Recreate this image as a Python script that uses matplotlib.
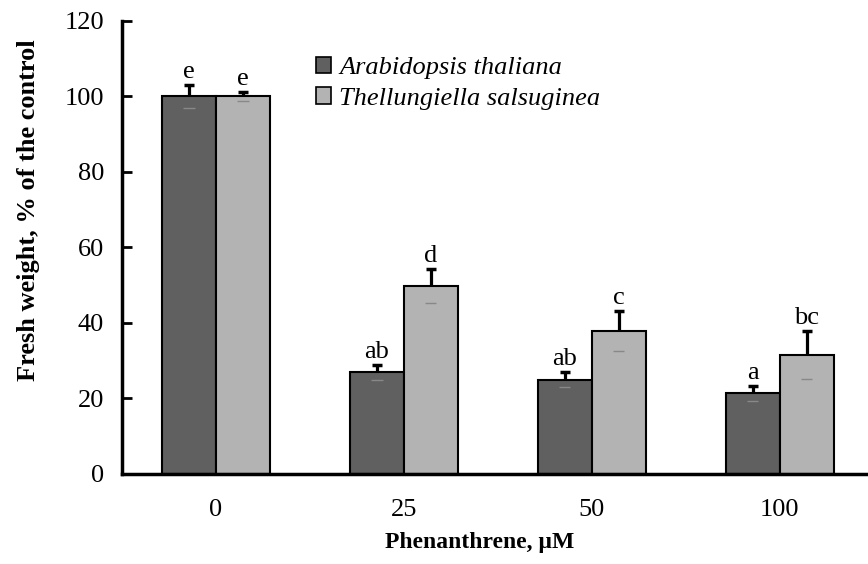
import numpy as np
import matplotlib.pyplot as plt
from matplotlib.patches import Patch

plt.rcParams['font.family'] = ['Liberation Serif', 'DejaVu Serif']

concentrations = ['0', '25', '50', '100']
arabidopsis = [100, 27, 25, 21.4]
arabidopsis_err = [3, 2, 2, 2]
thellungiella = [100, 49.7, 37.8, 31.5]
thellungiella_err = [1.2, 4.5, 5.3, 6.3]
arabidopsis_letters = ['e', 'ab', 'ab', 'a']
thellungiella_letters = ['e', 'd', 'c', 'bc']

dark = '#606060'
light = '#b3b3b3'

fig = plt.figure(figsize=(8.68, 5.64), dpi=100)
ax = fig.add_axes([0.1406, 0.1596, 0.8594, 0.8032])

x = np.arange(len(concentrations))
w = 0.287

for offs, vals, errs, col, letters in [(-w / 2, arabidopsis, arabidopsis_err, dark, arabidopsis_letters),
                                       (w / 2, thellungiella, thellungiella_err, light, thellungiella_letters)]:
    xs = x + offs
    vals = np.array(vals)
    errs = np.array(errs)
    ax.bar(xs, vals, width=w, color=col, edgecolor='black', linewidth=1.5, zorder=2)
    # lower half of the error bar shows as a faint line inside the bar
    ax.hlines(vals - errs, xs - 0.03, xs + 0.03, color='#888888', lw=1, zorder=3)
    eb = ax.errorbar(xs, vals, yerr=[np.zeros_like(errs), errs], fmt='none',
                     ecolor='black', elinewidth=2.3, capsize=3.4, capthick=2.5, zorder=3)
    eb[1][0].set_visible(False)
    for xi, v, e, lab in zip(xs, vals, errs, letters):
        ax.text(xi, v + e + 0.5, lab, ha='center', va='bottom', fontsize=19)

ax.set_xlim(-0.5, 3.47)
ax.set_ylim(0, 120)
ax.set_yticks(np.arange(0, 121, 20))
ax.set_xticks(x)
ax.set_xticklabels(concentrations)
ax.tick_params(axis='y', direction='in', length=7, width=2, labelsize=19, pad=13)
ax.tick_params(axis='x', length=0, labelsize=19, pad=18)
for s in ['top', 'right']:
    ax.spines[s].set_visible(False)
for s in ['left', 'bottom']:
    ax.spines[s].set_linewidth(2.5)

ax.set_ylabel('Fresh weight, % of the control', fontsize=19, fontweight='bold')
ax.yaxis.set_label_coords(-0.11, 0.583)
ax.set_xlabel('Phenanthrene, µM', fontsize=17, fontweight='bold')
ax.xaxis.set_label_coords(0.48, -0.127)

handles = [Patch(facecolor=dark, edgecolor='black', linewidth=1.2),
           Patch(facecolor=light, edgecolor='black', linewidth=1.2)]
ax.legend(handles, ['Arabidopsis thaliana', 'Thellungiella salsuginea'],
          loc='upper left', bbox_to_anchor=(0.246, 0.944), frameon=False, borderaxespad=0,
          prop={'style': 'italic', 'size': 19}, handlelength=0.57, handleheight=0.57,
          handletextpad=0.3, labelspacing=0.3)

fig.savefig('out.png', dpi=100)
